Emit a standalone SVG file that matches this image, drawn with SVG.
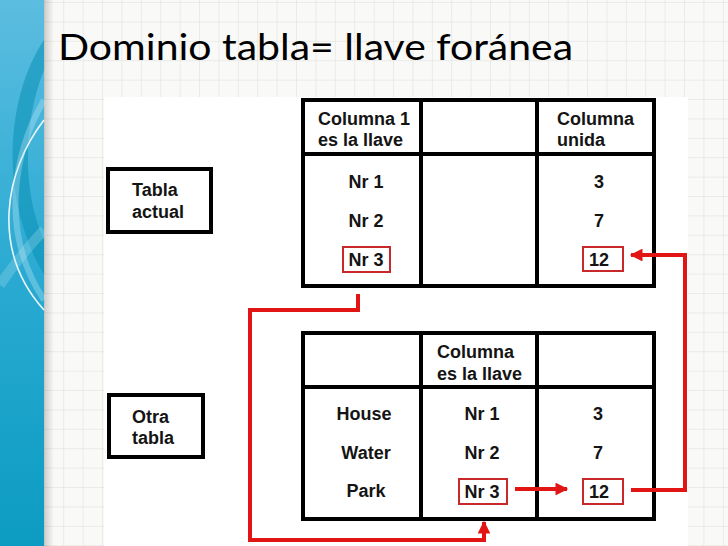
<svg xmlns="http://www.w3.org/2000/svg" width="728" height="546" viewBox="0 0 728 546">
<defs>
<pattern id="grid" x="6" y="3" width="19.4" height="19.4" patternUnits="userSpaceOnUse">
<path d="M19.4 0V19.4M0 19.4H19.4" fill="none" stroke="#dcdedb" stroke-width="1"/>
</pattern>
<linearGradient id="bar" x1="0" y1="0" x2="0" y2="1">
<stop offset="0" stop-color="#5cbde0"/>
<stop offset="0.5" stop-color="#2aaad2"/>
<stop offset="1" stop-color="#0c9cc2"/>
</linearGradient>
<linearGradient id="shadow" x1="0" y1="0" x2="1" y2="0">
<stop offset="0" stop-color="#000" stop-opacity="0.18"/>
<stop offset="1" stop-color="#000" stop-opacity="0"/>
</linearGradient>
<marker id="arr" viewBox="0 0 10 10" refX="9" refY="5" markerWidth="3.6" markerHeight="3.2" orient="auto" markerUnits="strokeWidth">
<path d="M0 0L10 5L0 10z" fill="#e21515"/>
</marker>
<style>
.t{font-family:"Liberation Sans",Arial,sans-serif;font-weight:bold;font-size:18px;fill:#141414}
.c{text-anchor:middle}
.tb{fill:#fff;stroke:#000;stroke-width:4}
.ln{stroke:#000;stroke-width:4;fill:none}
.hl{fill:none;stroke:#c8282a;stroke-width:2}
.rc{fill:none;stroke:#e21515;stroke-width:4;stroke-linejoin:miter}
</style>
</defs>
<rect width="728" height="546" fill="#f9f9f7"/>
<rect width="728" height="546" fill="url(#grid)"/>
<rect x="104" y="97" width="584" height="449" fill="#fff"/>
<rect x="44" y="0" width="10" height="546" fill="url(#shadow)"/>
<g id="sidebar">
<rect x="0" y="0" width="44" height="546" fill="url(#bar)"/>
<path d="M44 40C10 90 -5 190 44 275L44 240C25 200 20 130 44 70Z" fill="#0a8fb4" opacity="0.55"/>
<path d="M44 120C5 170 -10 250 44 310" fill="none" stroke="#fff" stroke-width="1.6" opacity="0.9"/>
<path d="M44 100C15 150 -2 230 44 300" fill="none" stroke="#bfe8f5" stroke-width="6" opacity="0.35"/>
<path d="M44 230C25 250 10 270 0 285" fill="none" stroke="#bfe8f5" stroke-width="10" opacity="0.25"/>
</g>
<text x="58" y="60" font-family="Lato,'Open Sans',sans-serif" font-size="37" fill="#000" textLength="515" lengthAdjust="spacingAndGlyphs">Dominio tabla= llave foránea</text>

<g id="tabla-actual">
<rect class="tb" x="108" y="169" width="103" height="63"/>
<text class="t" x="132" y="196">Tabla</text>
<text class="t" x="132" y="218">actual</text>
</g>

<g id="otra-tabla">
<rect class="tb" x="109" y="395" width="94" height="62"/>
<text class="t" x="132" y="423">Otra</text>
<text class="t" x="132" y="444">tabla</text>
</g>

<g id="tabla-superior">
<rect class="tb" x="303" y="100" width="351" height="186"/>
<path class="ln" d="M421 100V286M537 100V286M303 154H654"/>
<text class="t" x="318" y="125">Columna 1</text>
<text class="t" x="318" y="146">es la llave</text>
<text class="t" x="557" y="125">Columna</text>
<text class="t" x="557" y="146">unida</text>
<text class="t c" x="366" y="188">Nr 1</text>
<text class="t c" x="366" y="227">Nr 2</text>
<rect class="hl" x="343" y="247" width="47" height="25"/>
<text class="t c" x="366" y="266">Nr 3</text>
<text class="t c" x="599" y="188">3</text>
<text class="t c" x="599" y="227">7</text>
<rect class="hl" x="583" y="247" width="40" height="24"/>
<text class="t c" x="599" y="266">12</text>
</g>

<g id="tabla-inferior">
<rect class="tb" x="303" y="333" width="351" height="186"/>
<path class="ln" d="M421 333V519M537 333V519M303 387H654"/>
<text class="t" x="437" y="358">Columna</text>
<text class="t" x="437" y="380">es la llave</text>
<text class="t c" x="364" y="420">House</text>
<text class="t c" x="366" y="459">Water</text>
<text class="t c" x="366" y="497">Park</text>
<text class="t c" x="482" y="420">Nr 1</text>
<text class="t c" x="482" y="459">Nr 2</text>
<rect class="hl" x="459" y="479" width="48" height="25"/>
<text class="t c" x="482" y="498">Nr 3</text>
<text class="t c" x="598" y="420">3</text>
<text class="t c" x="598" y="459">7</text>
<rect class="hl" x="583" y="479" width="40" height="25"/>
<text class="t c" x="599" y="498">12</text>
</g>

<g id="connectors">
<path class="rc" d="M358 294V310H250V540H484V522" marker-end="url(#arr)"/>
<path class="rc" d="M515 489H567" marker-end="url(#arr)"/>
<path class="rc" d="M631 490H685V255H631" marker-end="url(#arr)"/>
</g>
</svg>
